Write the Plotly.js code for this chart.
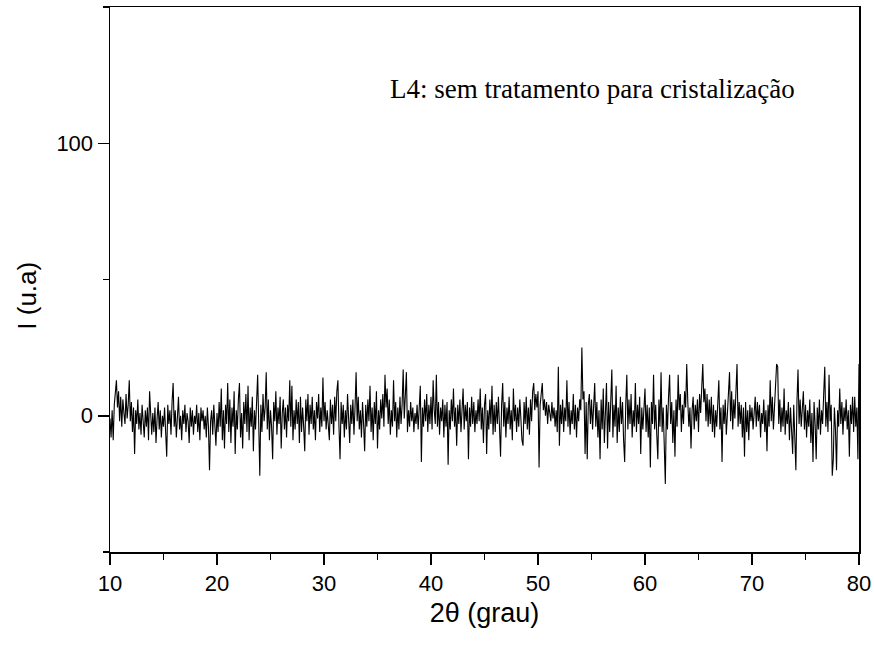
<!DOCTYPE html>
<html>
<head>
<meta charset="utf-8">
<script src="https://cdn.plot.ly/plotly-3.0.1.min.js"></script>
<style>html,body{margin:0;padding:0;background:#fff;}#chart{width:874px;height:645px;}</style>
</head>
<body>
<div id="chart"></div>
<script>
// 2θ axis: first angle and step of the scan (degrees)
const angleStart = 10;
const angleStep = 0.1;

// Intensity I (u.a), one value per 0.1° from 10° to 80°
const intensity = [
  -1,-8,2,-9,4,8,13,3,9,-2,7,-4,6,1,-3,8,-1,4,13,-2,
  5,-6,3,-14,2,-3,6,-5,1,-7,4,-2,-8,2,-4,3,-9,9,-3,-7,
  1,-6,3,-10,-1,5,-5,2,-8,0,-4,3,-6,-15,4,-3,2,-7,5,12,
  -4,2,-8,3,7,-5,0,-9,2,-3,4,-6,1,-2,-10,3,-4,2,-7,0,
  -3,4,-6,1,-9,3,-2,2,-5,0,-8,3,-4,-20,-2,2,-7,4,-3,-11,
  1,-6,5,-4,10,-9,2,-12,4,-3,12,-6,6,-10,3,-4,9,-14,2,-5,
  6,12,-8,1,-12,5,-3,8,-6,11,-9,3,-4,7,-13,2,-5,6,15,-3,
  -22,4,-6,8,-2,3,16,-5,6,-9,2,-4,-16,5,-2,9,-7,3,-3,7,
  -12,1,6,-5,3,-8,4,-2,13,-4,11,-9,2,-5,6,-3,5,-10,7,-6,
  3,-4,-13,6,-2,8,-7,4,-3,7,-5,2,-9,5,-1,8,-6,3,-4,14,
  -2,5,-5,2,-4,-9,6,-3,4,-7,7,-2,9,13,-4,-16,5,-3,4,-8,
  2,-5,8,-1,-10,4,-3,6,-7,3,16,-2,7,-5,2,-8,5,-3,-13,4,
  -4,6,-2,11,-6,3,-9,5,-3,9,-12,2,-5,6,-1,8,-4,15,3,10,
  -3,6,-7,2,-4,13,-2,5,-8,3,-5,7,-3,4,17,-1,6,16,-6,2,
  -4,5,-2,3,-6,1,-3,4,-5,2,11,-17,3,-4,6,-2,8,-6,4,-3,
  7,-5,13,2,-3,15,-4,5,-7,3,-2,6,-8,4,-4,5,-18,2,-5,6,
  -2,10,-4,3,-11,4,-3,6,-6,2,10,-5,4,-2,5,-16,3,-4,7,-3,
  5,-6,2,-3,6,-2,10,-5,3,-10,4,8,-14,2,-5,6,-3,11,-7,4,
  -6,5,-3,7,-2,-15,4,12,-4,5,-8,3,-3,7,-5,2,-9,10,-2,4,
  -6,3,-4,6,-1,-9,-11,5,-3,7,-5,3,-7,6,-2,9,12,2,8,3,
  9,-19,4,7,12,2,6,0,5,-3,4,1,-2,5,-1,3,-4,2,-6,18,
  -11,4,-3,6,-6,3,-2,13,-4,5,-7,2,-3,8,-5,4,-8,3,-2,6,
  2,25,6,9,-14,5,-16,4,8,-3,6,-5,3,12,-4,5,-8,2,-16,6,
  -5,10,-10,3,12,-12,5,-6,8,17,-8,4,-4,11,-10,3,-6,7,-3,5,
  -9,-17,4,15,-5,6,-3,8,-8,2,-4,12,-6,4,-3,7,-14,3,-5,6,
  10,-6,4,-8,3,-19,5,-3,15,-5,4,-7,-16,6,-4,16,-6,3,-8,-25,
  4,-5,7,15,-3,5,-10,2,-15,6,-4,15,2,8,-6,4,-3,9,3,19,
  5,-4,3,-12,2,7,-5,4,-2,6,-6,8,1,12,19,5,10,-2,8,-4,
  6,-3,7,-6,4,-8,2,-4,5,13,-5,3,-17,4,-3,6,-7,2,5,16,
  -2,9,-5,6,-1,8,19,-4,5,-3,4,-8,3,-15,5,-6,2,-9,4,-2,
  3,-5,2,7,-4,5,-2,4,-8,1,-3,6,-6,2,-13,4,-4,13,-2,7,
  -5,4,9,19,18,-3,6,-6,3,-4,10,-7,2,-3,5,-9,3,-5,-14,4,
  -6,-20,5,17,-3,6,-4,3,9,-5,4,-8,2,-4,6,-10,1,-17,5,-3,
  -16,3,-5,6,-7,2,-3,8,18,-4,5,-6,15,-2,4,-22,-16,3,-5,-20,
  2,-4,10,-3,5,-7,3,-2,6,-5,2,-15,4,-3,7,-6,7,-4,3,-16,
  19
];

// Axis ticks and labels
const xTickVals = [10, 20, 30, 40, 50, 60, 70, 80];
const yTickVals = [0, 100];
const xTitle = '2θ (grau)';
const yTitle = 'I (u.a)';
const noteText = 'L4: sem tratamento para cristalização';

const trace = {
  type: 'scatter',
  mode: 'lines',
  x0: angleStart,
  dx: angleStep,
  y: intensity,
  line: {color: '#000', width: 1.1},
  hoverinfo: 'skip'
};

const sans = 'Arial, "Liberation Sans", sans-serif';
const axisFont = {family: sans, size: 22, color: '#000'};

const layout = {
  width: 874,
  height: 645,
  margin: {l: 110, r: 15, t: 7, b: 93, pad: 0},
  paper_bgcolor: '#fff',
  plot_bgcolor: '#fff',
  showlegend: false,
  xaxis: {
    range: [10, 80],
    tickmode: 'array',
    tickvals: xTickVals,
    ticktext: xTickVals.map(String),
    ticks: 'outside',
    ticklen: 11,
    tickwidth: 1.5,
    tickcolor: '#000',
    minor: {dtick: 5, tick0: 0, ticks: 'outside', ticklen: 6, tickwidth: 1.5, tickcolor: '#000', showgrid: false},
    showline: true,
    linewidth: 1.5,
    linecolor: '#000',
    mirror: true,
    showgrid: false,
    zeroline: false,
    tickfont: axisFont,
    title: {text: xTitle, font: {family: sans, size: 27, color: '#000'}, standoff: 8},
    automargin: false
  },
  yaxis: {
    range: [-50, 150],
    tickmode: 'array',
    tickvals: yTickVals,
    ticktext: yTickVals.map(String),
    ticks: 'outside',
    ticklen: 11,
    tickwidth: 1.5,
    tickcolor: '#000',
    minor: {dtick: 50, tick0: 0, ticks: 'outside', ticklen: 6, tickwidth: 1.5, tickcolor: '#000', showgrid: false},
    showline: true,
    linewidth: 1.5,
    linecolor: '#000',
    mirror: true,
    showgrid: false,
    zeroline: false,
    tickfont: axisFont,
    automargin: false
  },
  annotations: [{
    text: noteText,
    xref: 'x', yref: 'y',
    x: 36.0, y: 120,
    xanchor: 'left', yanchor: 'middle',
    showarrow: false,
    font: {family: '"Times New Roman", "Liberation Serif", serif', size: 27, color: '#000'}
  }, {
    text: yTitle,
    xref: 'paper', yref: 'paper',
    x: -0.111, y: 0.47,
    xanchor: 'center', yanchor: 'middle',
    textangle: -90,
    showarrow: false,
    font: {family: sans, size: 26, color: '#000'}
  }]
};

Plotly.newPlot('chart', [trace], layout, {displayModeBar: false, staticPlot: true});
</script>
</body>
</html>
